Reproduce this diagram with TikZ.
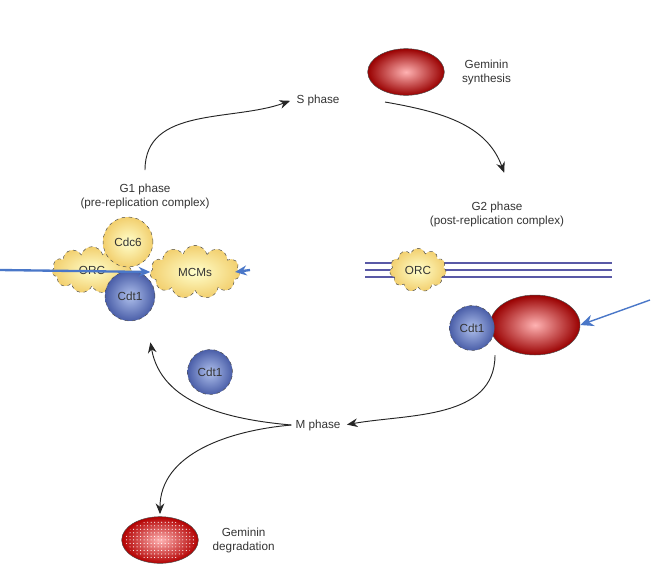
\documentclass[tikz,border=0pt]{standalone}
\usepackage{fontspec}
\setmainfont{Liberation Sans}
\usetikzlibrary{arrows, arrows.meta, shapes, calc, positioning, patterns}
\tikzset{>=stealth', font=\fontsize{10}{12}\selectfont\color{black!80}}
\definecolor{bluearrow}{HTML}{4A77C8}
\definecolor{beige}{HTML}{F2CF6E}
\definecolor{cdtin}{HTML}{AFC0EC}
\definecolor{cdtout}{HTML}{4A5EA8}
\tikzset{yellowblob/.style={shape=cloud, cloud puffs=11, aspect=1.5, draw=black!70, dashed,
    inner color=yellow!20, outer color=beige, inner sep=0.5mm, minimum width=1.7cm, minimum height=1.3cm},
  cdt/.style={shape=circle, draw=black!70, dashed, inner color=cdtin, outer color=cdtout,
    minimum size=1.35cm, inner sep=0},
  gem/.style={shape=ellipse, draw=black!70, inner color=red!30, outer color=red!60!black,
    minimum width=2.3cm, minimum height=1.4cm},
  flow/.style={-{Stealth[length=3.2mm, width=2.6mm]}, thick, black!85, shorten >=2pt},
  dna/.style={draw=blue!30!gray, line width=1.3pt}}

\begin{document}
\begin{tikzpicture}[x=0.03cm, y=-0.03cm]
  \useasboundingbox (0,0) rectangle (651,575);
  % phases
  \node (S) at (318,100) {S phase};
  \node (M) at (318,425) {M phase};
  \node[align=center] (G1) at (145,196) {G1 phase\\(pre-replication complex)};
  \node[align=center] (G2) at (497,214) {G2 phase\\(post-replication complex)};
  % geminin
  \node[gem] (gemS) at (406,72) {};
  \node[align=center, right=0.4cm of gemS] {Geminin\\synthesis};
  \node[gem, outer color=red!70!black] (gemD) at (160,540) {};
  \fill[pattern=dots, pattern color=white] (gemD.center) ellipse (1.05cm and 0.6cm);
  \node[align=center, right=0.3cm of gemD] {Geminin\\degradation};
  % G2 complex
  \foreach \y in {263,270,277} \draw[dna] (365,\y) -- (612,\y);
  \node[yellowblob] (orcR) at (418,270) {ORC};
  \node[gem, minimum width=2.7cm, minimum height=1.8cm] (gemR) at (535,325) {};
  \node[cdt] (cdtR) at (472,328) {Cdt1};
  \coordinate (pR) at (650,300);
  \draw[-{Stealth[length=4mm, width=3.5mm]}, very thick, bluearrow] (pR) -- (gemR.east);
  % G1 complex
  \node[yellowblob, minimum width=2.7cm, minimum height=1.6cm] (mcm) at (195,272) {MCMs};
  \node[yellowblob, minimum width=2.4cm, minimum height=1.4cm] (orcL) at (92,270) {ORC};
  \node[cdt, minimum size=1.5cm, inner color=yellow!20, outer color=beige] (cdc) at (128,242) {Cdc6};
  \node[cdt, minimum size=1.5cm] (cdtL) at (130,296) {Cdt1};
  \coordinate (pL) at (0,270);
  \coordinate (qL) at (250,270);
  \draw[-{Stealth[length=3.5mm, width=3mm]}, line width=2pt, bluearrow] (pL) -- (mcm.west);
  \draw[-{Stealth[length=3.5mm, width=3mm]}, line width=2pt, bluearrow] (qL) -- ([xshift=-4pt]mcm.east);
  \node[cdt] (cdtF) at (210,372) {Cdt1};
  % cycle
  \coordinate (aG1) at (145,170);
  \coordinate (aG2) at (505,175);
  \coordinate (aS) at (385,102);
  \coordinate (aR) at (495,355);
  \coordinate (aL) at (150,340);
  \draw[flow] (aG1) to[out=90, in=200] (S.west);
  \draw[flow] (aS) to[out=-10, in=110] (aG2);
  \draw[flow] (aR) to[out=-90, in=10] (M.east);
  \draw[flow] (M.west) to[out=175, in=-80] (aL);
  \draw[flow] (M.west) to[out=185, in=90] (gemD.north);
\end{tikzpicture}
\end{document}
